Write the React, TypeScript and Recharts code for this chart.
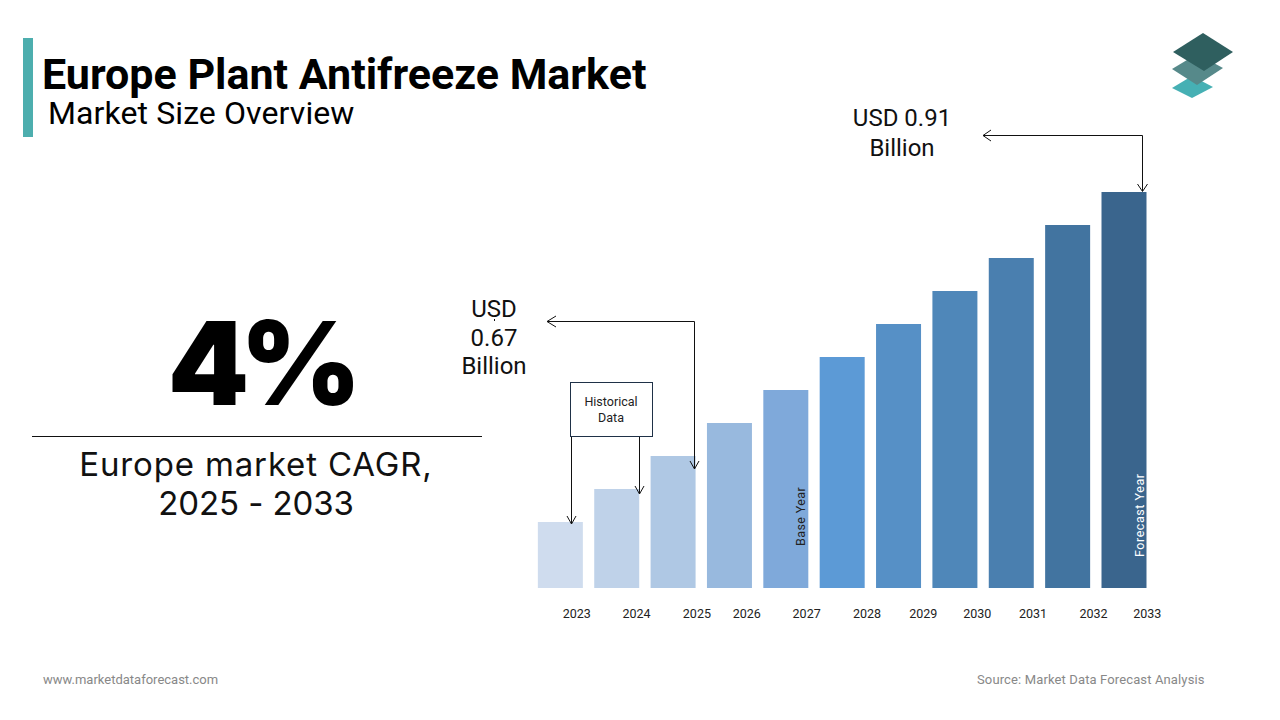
import { BarChart, Bar, XAxis, YAxis, Cell } from "recharts";

const years = ["2023", "2024", "2025", "2026", "2027", "2028", "2029", "2030", "2031", "2032", "2033"];
const marketSize = [0.61, 0.64, 0.67, 0.7, 0.73, 0.76, 0.79, 0.82, 0.85, 0.88, 0.91];
const barColors = [
  "#CFDCEE",
  "#BFD2E9",
  "#AFC8E4",
  "#98B9DE",
  "#7FA9DA",
  "#5C9AD6",
  "#5690C6",
  "#4F87B9",
  "#4A7FAF",
  "#4274A0",
  "#3A658D",
];
// the year labels sit to the right of their bars in the original, by uneven amounts
const tickNudge = [16.5, 20, 24, 17.5, 21, 25, 25, 22.5, 22, 26, 23.5];

const data = years.map((year, i) => ({ year, value: marketSize[i] }));

const YearTick = (props: any) => {
  const { x, y, payload, index } = props;
  return (
    <text x={x + tickNudge[index]} y={y + 22} textAnchor="middle" fontSize={12.5} fill="#222">
      {payload.value}
    </text>
  );
};

const Label = ({ x, y, w, size, color = "#111", weight = 400, family, spacing, lh = 1.1, align = "center", children }: any) => (
  <div
    style={{
      position: "absolute",
      left: x,
      top: y,
      width: w,
      fontSize: size,
      lineHeight: lh,
      color,
      fontWeight: weight,
      fontFamily: family,
      letterSpacing: spacing,
      textAlign: align,
      whiteSpace: "nowrap",
    }}
  >
    {children}
  </div>
);

const App = () => {
  return (
    <div
      style={{
        position: "absolute",
        left: 0,
        top: 0,
        width: 1280,
        height: 720,
        background: "#fff",
        overflow: "hidden",
        fontFamily: "Roboto, sans-serif",
      }}
    >
      {/* Header */}
      <div style={{ position: "absolute", left: 23, top: 38, width: 10, height: 99, background: "#4DAEAE" }} />
      <Label x={42} y={53} size={43} lh={1} weight={700} color="#000" align="left">
        Europe Plant Antifreeze Market
      </Label>
      <Label x={48} y={97} size={32} lh={1} spacing={0.1} color="#000" align="left">
        Market Size Overview
      </Label>

      {/* Left panel */}
      <Label x={60} y={300} w={400} size={116} weight={900} spacing={-9} color="#000" family="Inter, sans-serif">
        4%
      </Label>
      <Label x={56} y={446} w={400} size={33} color="#111" family="Inter, sans-serif" spacing={0.85}>
        Europe market CAGR,
      </Label>
      <Label x={56} y={485} w={400} size={33} color="#111" family="Inter, sans-serif" spacing={-0.1}>
        2025 - 2033
      </Label>
      <div style={{ position: "absolute", left: 32, top: 436, width: 450, height: 1, background: "#111" }} />

      {/* Chart */}
      <div style={{ position: "absolute", left: 532, top: 192 }}>
        <BarChart
          width={660}
          height={436}
          data={data}
          margin={{ top: 0, right: 40, bottom: 0, left: 0 }}
          barCategoryGap="10.4%"
        >
          <XAxis
            dataKey="year"
            height={40}
            interval={0}
            axisLine={false}
            tickLine={false}
            tick={<YearTick />}
          />
          <YAxis hide domain={[0.55, 0.91]} />
          <Bar dataKey="value" isAnimationActive={false}>
            {data.map((entry, index) => (
              <Cell key={entry.year} fill={barColors[index]} />
            ))}
          </Bar>
        </BarChart>
      </div>

      {/* Annotations */}
      <svg width={1280} height={720} style={{ position: "absolute", left: 0, top: 0, pointerEvents: "none" }}>
        <g fill="none" stroke="#111" strokeWidth={1}>
          <path d="M983 135.5H1142.5V191" />
          <path d="M991 130L983 135.5L991 141" />
          <path d="M1137.5 184L1142.5 191.5L1147.5 184" />
          <path d="M547 321.5H694.5V469" />
          <path d="M556 316L547 321.5L556 327" />
          <path d="M690 461L694.5 469L699 461" />
          <path d="M571.5 437V524" />
          <path d="M567 516L571.5 524L576 516" />
          <path d="M639.5 437V494" />
          <path d="M635 486L639.5 494L644 486" />
          <path d="M494.5 319V321" />
        </g>
        <rect x={570.5} y={382.5} width={82} height={54} fill="#fff" stroke="#1F3147" strokeWidth={1} />
        <text x={611} y={406} textAnchor="middle" fontSize={12.5} fill="#222">
          Historical
        </text>
        <text x={611} y={422} textAnchor="middle" fontSize={12.5} fill="#222">
          Data
        </text>
        <text transform="translate(805 546) rotate(-90)" fontSize={12.5} letterSpacing={0.4} fill="#222">
          Base Year
        </text>
        <text transform="translate(1144 557) rotate(-90)" fontSize={12.5} letterSpacing={0.55} fill="#fff">
          Forecast Year
        </text>
        {/* Logo */}
        <polygon points="1172,88 1192,76 1213,87 1192,98" fill="#46B0B4" />
        <polygon points="1172,69 1197,54 1223,68 1197,85" fill="#56898A" />
        <polygon points="1173,52 1203,33 1233,52 1204,71" fill="#2F5F5F" />
      </svg>

      <Label x={802} y={105} w={200} size={24} color="#111">
        USD 0.91
      </Label>
      <Label x={802} y={135} w={200} size={24} color="#111">
        Billion
      </Label>
      <Label x={444} y={296} w={100} size={24} color="#111">
        USD
      </Label>
      <Label x={444} y={325} w={100} size={24} color="#111">
        0.67
      </Label>
      <Label x={444} y={353} w={100} size={24} color="#111">
        Billion
      </Label>

      {/* Footer */}
      <Label x={43} y={673} size={13} color="#888" align="left">
        www.marketdataforecast.com
      </Label>
      <Label x={977} y={673} size={13} color="#888" align="left" spacing={0.13}>
        Source: Market Data Forecast Analysis
      </Label>
    </div>
  );
};

export default App;
